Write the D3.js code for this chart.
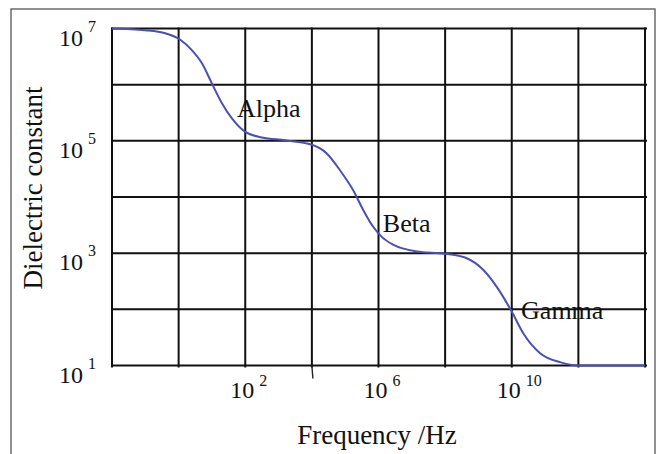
<!DOCTYPE html>
<html>
<head>
<meta charset="utf-8">
<script src="https://cdn.jsdelivr.net/npm/d3@7"></script>
<style>
  html, body { margin: 0; padding: 0; background: #fff; }
  svg text { font-family: "Liberation Serif", "Times New Roman", serif; fill: #111; }
</style>
</head>
<body>
<svg id="chart" width="661" height="454"></svg>
<script>
// Dispersion of dielectric constant with frequency (log10 values)
const logFrequency = [-2, -1.0, -0.4, 0.05, 0.39, 0.7, 1.0, 1.3, 1.6, 2.0, 2.5, 3.2, 4.0,
  4.44, 4.84, 5.24, 5.54, 5.84, 6.1, 6.44, 7.15, 8.0, 8.65, 9.15, 9.55, 10.0,
  10.35, 10.85, 11.45, 12.0, 14.0];
const logDielectric = [7.0, 6.97, 6.915, 6.8, 6.62, 6.38, 6.02, 5.67, 5.4, 5.16, 5.06, 5.01, 4.93,
  4.78, 4.48, 4.12, 3.77, 3.47, 3.29, 3.15, 3.03, 2.99, 2.91, 2.7, 2.4, 1.96,
  1.57, 1.22, 1.06, 1.0, 1.0];

// Grid decades and labelled ticks
const xGridExponents = [-2, 0, 2, 4, 6, 8, 10, 12, 14];
const yGridExponents = [1, 2, 3, 4, 5, 6, 7];
const xTickExponents = [2, 6, 10];
const yTickExponents = [7, 5, 3, 1];
const xMinorTick = [4];

// Relaxation regions
const regionNames = ["Alpha", "Beta", "Gamma"];
const regionLogFreq = [1.72, 6.1, 10.25];
const regionLogEps = [5.42, 3.38, 1.82];

const svg = d3.select("#chart");
const plotLeft = 112, plotRight = 645, plotTop = 28.5, plotBottom = 365.5;

const x = d3.scaleLog().domain([1e-2, 1e14]).range([plotLeft, plotRight]);
const y = d3.scaleLog().domain([1e1, 1e7]).range([plotBottom, plotTop]);

// outer frame
svg.append("rect")
  .attr("x", 11).attr("y", 9).attr("width", 644).attr("height", 470)
  .attr("fill", "none").attr("stroke", "#555").attr("stroke-width", 1.3);

// grid
const grid = svg.append("g").attr("stroke", "#111").attr("stroke-width", 2);
grid.selectAll("line.v").data(xGridExponents).join("line")
  .attr("class", "v")
  .attr("x1", d => x(10 ** d)).attr("x2", d => x(10 ** d))
  .attr("y1", plotTop - 1).attr("y2", plotBottom + 2);
grid.selectAll("line.h").data(yGridExponents).join("line")
  .attr("class", "h")
  .attr("x1", plotLeft - 1).attr("x2", plotRight + 2)
  .attr("y1", d => y(10 ** d)).attr("y2", d => y(10 ** d));

// stray minor tick under the axis
svg.selectAll("line.minor").data(xMinorTick).join("line")
  .attr("class", "minor")
  .attr("x1", d => x(10 ** d)).attr("x2", d => x(10 ** d) + 1)
  .attr("y1", plotBottom).attr("y2", plotBottom + 13)
  .attr("stroke", "#222").attr("stroke-width", 1.4);

// curve
const pts = logFrequency.map((f, i) => [10 ** f, 10 ** logDielectric[i]]);
svg.append("path")
  .datum(pts)
  .attr("fill", "none")
  .attr("stroke", "#4a50b2")
  .attr("stroke-width", 2)
  .attr("d", d3.line().x(d => x(d[0])).y(d => y(d[1])).curve(d3.curveMonotoneX));

// y tick labels: 10 with superscript exponent
const yt = svg.selectAll("g.ytick").data(yTickExponents).join("g")
  .attr("class", "ytick")
  .attr("transform", d => `translate(0,${y(10 ** d)})`);
yt.append("text").attr("x", 83).attr("y", 17).attr("text-anchor", "end")
  .attr("font-size", 24).text("10");
yt.append("text").attr("x", 88).attr("y", 3).attr("font-size", 16).text(d => d);

// x tick labels
const xt = svg.selectAll("g.xtick").data(xTickExponents).join("g")
  .attr("class", "xtick")
  .attr("transform", d => `translate(${x(10 ** d)},0)`);
xt.append("text").attr("x", 9).attr("y", 398).attr("text-anchor", "end")
  .attr("font-size", 24).text("10");
xt.append("text").attr("x", 14).attr("y", 386).attr("font-size", 16).text(d => d);

// region annotations
svg.selectAll("text.region").data(regionNames).join("text")
  .attr("class", "region")
  .attr("x", (d, i) => x(10 ** regionLogFreq[i]) + 1)
  .attr("y", (d, i) => y(10 ** regionLogEps[i]))
  .attr("font-size", 26)
  .text(d => d);

// axis titles
svg.append("text").attr("x", 377).attr("y", 444).attr("text-anchor", "middle")
  .attr("font-size", 27).text("Frequency /Hz");
svg.append("text")
  .attr("transform", "translate(42,188) rotate(-90)")
  .attr("text-anchor", "middle")
  .attr("font-size", 27).text("Dielectric constant");
</script>
</body>
</html>
